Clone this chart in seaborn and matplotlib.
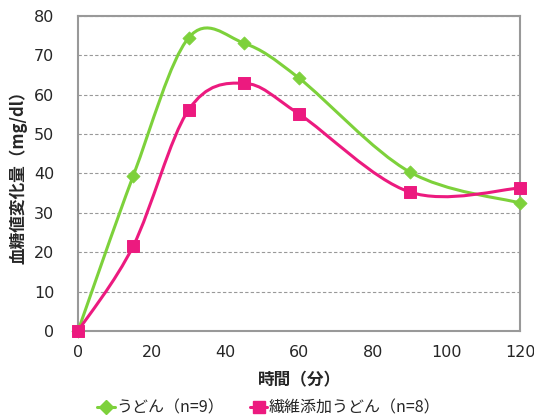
import numpy as np
import pandas as pd
import seaborn as sns
import matplotlib.pyplot as plt
from matplotlib.path import Path
from matplotlib.patches import PathPatch
from matplotlib.lines import Line2D

# data
minutes = [0, 15, 30, 45, 60, 90, 120]
udon = [0, 39.4, 74.4, 73.1, 64.2, 40.4, 32.5]
fiber_udon = [0, 21.6, 56.1, 62.9, 55.1, 35.3, 36.3]
label_udon = 'うどん（n=9）'
label_fiber = '繊維添加うどん（n=8）'

green = '#7dd13b'
pink = '#ec1a7f'

sns.set_style('white')
plt.rcParams['font.family'] = ['DejaVu Sans', 'Noto Sans CJK JP']


def smooth_path(xs, ys):
    # Excel-like smoothed line: Catmull-Rom segments as cubic Bezier
    pts = np.column_stack([xs, ys]).astype(float)
    ext = np.vstack([pts[0], pts, pts[-1]])
    verts = [pts[0]]
    codes = [Path.MOVETO]
    for i in range(1, len(ext) - 2):
        p0, p1, p2, p3 = ext[i - 1], ext[i], ext[i + 1], ext[i + 2]
        c1 = p1 + (p2 - p0) / 6
        c2 = p2 - (p3 - p1) / 6
        verts += [c1, c2, p2]
        codes += [Path.CURVE4] * 3
    return Path(verts, codes)


df = pd.DataFrame({'minutes': minutes, 'udon': udon, 'fiber': fiber_udon})

fig, ax = plt.subplots(figsize=(5.34, 4.18), dpi=100)

for col, color in [('udon', green), ('fiber', pink)]:
    ax.add_patch(PathPatch(smooth_path(df['minutes'], df[col]), fill=False,
                           edgecolor=color, lw=2.2, zorder=3))

sns.scatterplot(data=df, x='minutes', y='udon', marker='D', s=45, color=green,
                edgecolor=green, ax=ax, zorder=4, clip_on=False)
sns.scatterplot(data=df, x='minutes', y='fiber', marker='s', s=75, color=pink,
                edgecolor=pink, ax=ax, zorder=5, clip_on=False)

ax.set_xlim(0, 120)
ax.set_ylim(0, 80)
ax.set_xticks(range(0, 121, 20))
ax.set_yticks(range(0, 81, 10))
ax.yaxis.grid(True, color='#999999', linestyle=(0, (3, 2)), lw=0.8)
ax.xaxis.grid(False)
for s in ax.spines.values():
    s.set_color('#999999')
    s.set_linewidth(1.5)
ax.tick_params(labelsize=11.5, length=0)
ax.tick_params(axis='x', pad=10)
ax.tick_params(axis='y', pad=17)

ax.set_xlabel('時間（分）', fontsize=12, fontweight='bold',
              family=['Noto Sans CJK JP'], labelpad=8)
ax.set_ylabel('血糖値変化量（mg/dl）', fontsize=12, fontweight='bold',
              family=['Noto Sans CJK JP'], labelpad=5)

handles = [
    Line2D([], [], color=green, lw=2.2, marker='D', markersize=7),
    Line2D([], [], color=pink, lw=2.2, marker='s', markersize=9),
]
ax.legend(handles, [label_udon, label_fiber], loc='center',
          bbox_to_anchor=(0.432, -0.245), ncol=2, frameon=False,
          prop={'family': ['Noto Sans CJK JP'], 'size': 11.5},
          handlelength=1.1, handletextpad=0.1, columnspacing=1.6,
          borderpad=0, borderaxespad=0)

fig.subplots_adjust(left=0.146, right=0.974, top=0.962, bottom=0.208)
fig.savefig('out.png', dpi=100)
